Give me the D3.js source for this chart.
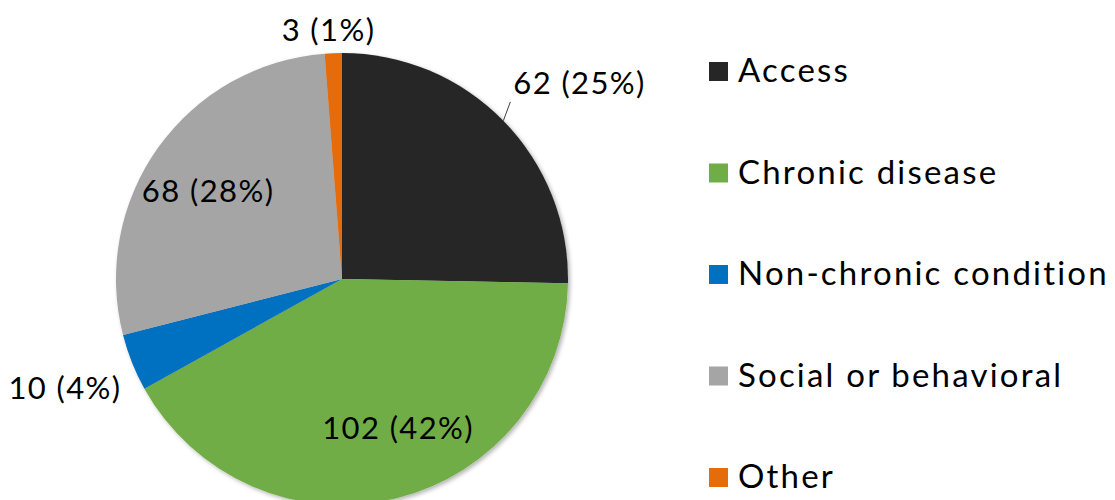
<!DOCTYPE html>
<html>
<head>
<meta charset="utf-8">
<script src="https://cdn.jsdelivr.net/npm/d3@7"></script>
<style>
  html, body { margin: 0; padding: 0; background: #fff; }
  text { font-family: "Lato", "DejaVu Sans", sans-serif; fill: #000; }
</style>
</head>
<body>
<div id="chart"></div>
<script>
const width = 1115;
const height = 500;

// data
const categories = ['Access', 'Chronic disease', 'Non-chronic condition', 'Social or behavioral', 'Other'];
const counts = [62, 102, 10, 68, 3];
const percents = [25, 42, 4, 28, 1];
const colors = ['#262626', '#70ad47', '#0070c0', '#a5a5a5', '#e46c0a'];
const labelPlacement = ['leader', 'inside', 'outside', 'inside', 'outside'];

const cx = 342, cy = 279, radius = 226;

const svg = d3.select('#chart')
  .append('svg')
  .attr('width', width)
  .attr('height', height)
  .attr('viewBox', `0 0 ${width} ${height}`);

// soft shadow under the pie
const defs = svg.append('defs');
const shadow = defs.append('filter').attr('id', 'shadow')
  .attr('x', '-10%').attr('y', '-10%').attr('width', '120%').attr('height', '120%');
shadow.append('feDropShadow')
  .attr('dx', 2).attr('dy', 2).attr('stdDeviation', 2)
  .attr('flood-color', '#000').attr('flood-opacity', 0.3);

const data = categories.map((c, i) => ({ name: c, count: counts[i], pct: percents[i], color: colors[i], place: labelPlacement[i] }));

const pie = d3.pie().value(d => d.count).sort(null);
const arcs = pie(data);
const arc = d3.arc().innerRadius(0).outerRadius(radius);

const g = svg.append('g').attr('transform', `translate(${cx},${cy})`);

g.append('g').attr('filter', 'url(#shadow)')
  .selectAll('path')
  .data(arcs)
  .join('path')
  .attr('d', arc)
  .attr('fill', d => d.data.color);

// labels (small hand nudges, like the moved labels in the original)
const fontSize = 31;
const nudge = { 'Chronic disease': [19, 0], 'Social or behavioral': [-9, 2], 'Non-chronic condition': [18, -12], 'Other': [-4, 5], 'Access': [0, -6] };
function pointAt(angle, r) {
  return [Math.sin(angle) * r, -Math.cos(angle) * r];
}

arcs.forEach(a => {
  const mid = (a.startAngle + a.endAngle) / 2;
  const txt = `${a.data.count} (${a.data.pct}%)`;
  const [nx, ny] = nudge[a.data.name] || [0, 0];
  let t;
  if (a.data.place === 'inside') {
    const [x, y] = pointAt(mid, radius * 0.68);
    t = g.append('text')
      .attr('x', x + nx).attr('y', y + ny)
      .attr('text-anchor', 'middle')
      .attr('dy', '0.35em');
  } else if (a.data.place === 'leader') {
    const [x0, y0] = pointAt(mid, radius);
    const [x1, y1] = pointAt(mid, radius + 24);
    g.append('line')
      .attr('x1', x0).attr('y1', y0)
      .attr('x2', x0 + 7).attr('y2', y1 - 2)
      .attr('stroke', '#404040').attr('stroke-width', 1);
    t = g.append('text')
      .attr('x', x0 + 10 + nx).attr('y', y1 - 4 + ny)
      .attr('text-anchor', 'start');
  } else {
    const [x, y] = pointAt(mid, radius + 22);
    const side = Math.sin(mid);
    t = g.append('text')
      .attr('x', (Math.abs(side) < 0.2 ? x : x - 8) + nx)
      .attr('y', (Math.abs(side) < 0.2 ? y - 6 : y + 30) + ny)
      .attr('text-anchor', Math.abs(side) < 0.2 ? 'middle' : (side > 0 ? 'start' : 'end'))
      .attr('dy', '0.35em');
  }
  t.style('font-size', fontSize + 'px')
    .style('letter-spacing', '1.4px')
    .text(txt);
});

// legend
const legendY = d3.scalePoint().domain(categories).range([82, 488]);
const legend = svg.append('g')
  .selectAll('g')
  .data(data)
  .join('g')
  .attr('transform', d => `translate(709,${legendY(d.name)})`);

legend.append('rect')
  .attr('x', 0).attr('y', -20)
  .attr('width', 19).attr('height', 19)
  .attr('fill', d => d.color);

legend.append('text')
  .attr('x', 29).attr('y', 0)
  .style('font-size', '33px')
  .style('letter-spacing', '2.2px')
  .text(d => d.name);
</script>
</body>
</html>
